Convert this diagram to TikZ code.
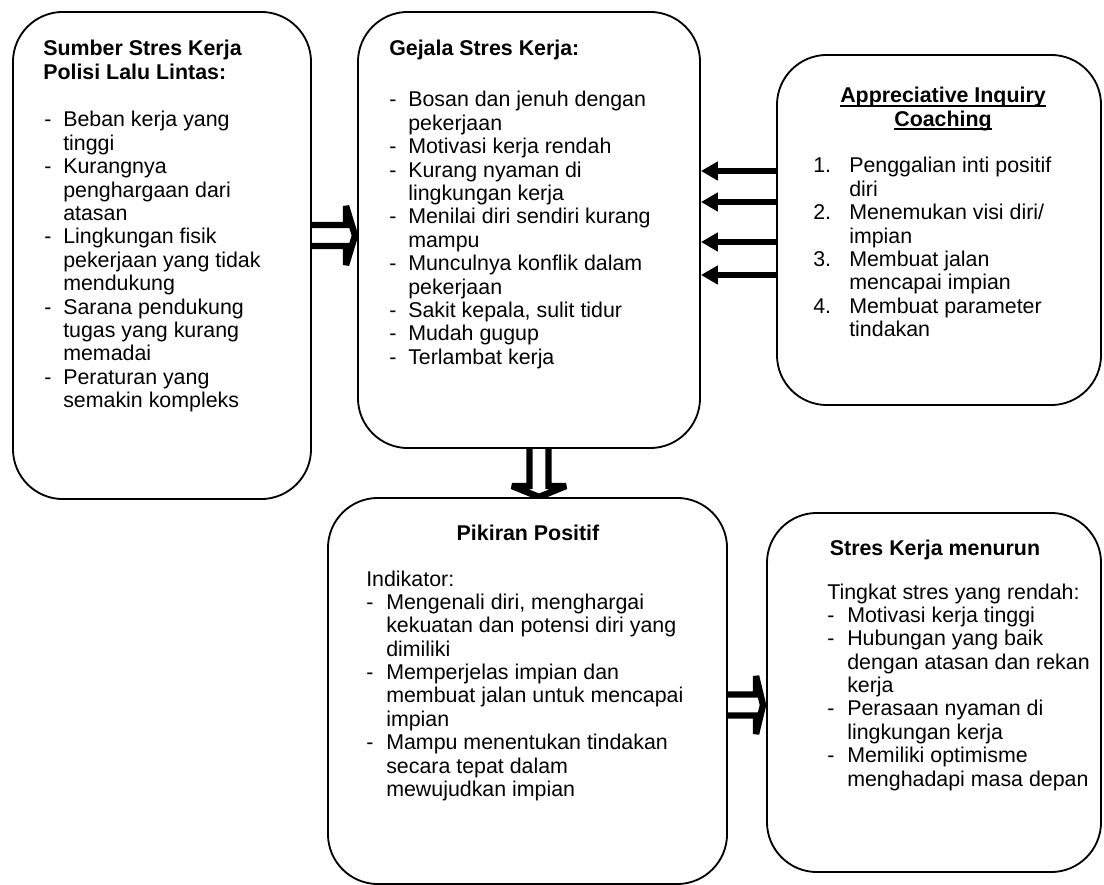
\documentclass[tikz,border=0pt]{standalone}
\usepackage{fontspec}
\setmainfont{Liberation Sans}
\usetikzlibrary{arrows.meta, calc}

\newcommand{\ulword}[1]{\leavevmode\setbox0\hbox{#1}\rlap{\rule[-2.6pt]{\wd0}{1.1pt}}\box0}

\begin{document}
\begin{tikzpicture}[
		x=0.025cm, y=-0.025cm,
		panel/.style={rectangle, rounded corners=1.25cm, draw=black, line width=1.3pt, fill=white, inner sep=0pt},
		heading/.style={font=\fontsize{15.2}{16.63}\selectfont\bfseries, inner sep=0pt},
		listtext/.style={font=\fontsize{15.2}{16.63}\selectfont, inner sep=0pt, anchor=base west},
		hollow/.style={draw=black, fill=white, line width=4.6pt, line join=miter, miter limit=2},
		thickarrow/.style={-{Triangle[length=0.42cm,width=0.45cm]}, line width=4.3pt}
	]
	\useasboundingbox (0,0) rectangle (1104,885);

	% Hollow block arrows (behind the panels)
	\draw [hollow] (306,225) -- (346,225) -- (346,206) -- (355,235.5) -- (346,265) -- (346,246) -- (306,246) -- cycle;
	\draw [hollow] (529.5,444) -- (529.5,486) -- (512,486) -- (539,497) -- (566,486) -- (548.5,486) -- (548.5,444) -- cycle;
	\draw [hollow] (723,694.5) -- (756,694.5) -- (756,676) -- (763,705) -- (756,734) -- (756,715.5) -- (723,715.5) -- cycle;

	% Panels
	\node (sumber_box) [panel, minimum width=7.45cm, minimum height=12.175cm] at (162,255.5) {};
	\node (gejala_box) [panel, minimum width=8.55cm, minimum height=10.9cm] at (529,230) {};
	\node (aic_box) [panel, minimum width=8.1cm, minimum height=8.75cm] at (939,230) {};
	\node (pikiran_box) [panel, minimum width=9.975cm, minimum height=9.65cm] at (527.5,691) {};
	\node (menurun_box) [panel, minimum width=8.35cm, minimum height=8.975cm] at (934,692.5) {};

	% Sumber stres
	\node (sumber_title) [heading, anchor=base west] at (43,56) {\begin{tabular}[t]{@{}l@{}}Sumber Stres Kerja\\Polisi Lalu Lintas:\end{tabular}};
	\node (sumber_list) [listtext] at (44,127) {\begin{tabular}[t]{@{}p{0.475cm}@{}l@{}}
		-&Beban kerja yang\\ &tinggi\\
		-&Kurangnya\\ &penghargaan dari\\ &atasan\\
		-&Lingkungan fisik\\ &pekerjaan yang tidak\\ &mendukung\\
		-&Sarana pendukung\\ &tugas yang kurang\\ &memadai\\
		-&Peraturan yang\\ &semakin kompleks
	\end{tabular}};

	% Gejala stres
	\node (gejala_title) [heading, anchor=base west] at (389,56) {Gejala Stres Kerja:};
	\node (gejala_list) [listtext] at (389,107) {\begin{tabular}[t]{@{}p{0.475cm}@{}l@{}}
		-&Bosan dan jenuh dengan\\ &pekerjaan\\
		-&Motivasi kerja rendah\\
		-&Kurang nyaman di\\ &lingkungan kerja\\
		-&Menilai diri sendiri kurang\\ &mampu\\
		-&Munculnya konflik dalam\\ &pekerjaan\\
		-&Sakit kepala, sulit tidur\\
		-&Mudah gugup\\
		-&Terlambat kerja
	\end{tabular}};

	% Appreciative Inquiry Coaching
	\node (aic_title) [heading, anchor=base] at (943,103) {\begin{tabular}[t]{@{}c@{}}\ulword{Appreciative Inquiry}\\\ulword{Coaching}\end{tabular}};
	\node (aic_list) [listtext] at (813,173) {\begin{tabular}[t]{@{}p{0.9cm}@{}l@{}}
		1.&Penggalian inti positif\\ &diri\\
		2.&Menemukan visi diri/\\ &impian\\
		3.&Membuat jalan\\ &mencapai impian\\
		4.&Membuat parameter\\ &tindakan
	\end{tabular}};

	% Pikiran positif
	\node (pikiran_title) [heading, anchor=base] at (528,540) {Pikiran Positif};
	\node (pikiran_list) [listtext] at (366,586) {\begin{tabular}[t]{@{}p{0.5cm}@{}l@{}}
		\multicolumn{2}{@{}l@{}}{Indikator:}\\
		-&Mengenali diri, menghargai\\ &kekuatan dan potensi diri yang\\ &dimiliki\\
		-&Memperjelas impian dan\\ &membuat jalan untuk mencapai\\ &impian\\
		-&Mampu menentukan tindakan\\ &secara tepat dalam\\ &mewujudkan impian
	\end{tabular}};

	% Stres kerja menurun
	\node (menurun_title) [heading, anchor=base] at (935,555) {Stres Kerja menurun};
	\node (menurun_list) [listtext] at (827,599) {\begin{tabular}[t]{@{}p{0.5cm}@{}l@{}}
		\multicolumn{2}{@{}l@{}}{Tingkat stres yang rendah:}\\
		-&Motivasi kerja tinggi\\
		-&Hubungan yang baik\\ &dengan atasan dan rekan\\ &kerja\\
		-&Perasaan nyaman di\\ &lingkungan kerja\\
		-&Memiliki optimisme\\ &menghadapi masa depan
	\end{tabular}};

	% Coaching arrows into the symptoms panel
	\foreach \yy in {171,202,242,275}
		\draw [thickarrow] (aic_box.west |- 0,\yy) -- (gejala_box.east |- 0,\yy);

\end{tikzpicture}
\end{document}
